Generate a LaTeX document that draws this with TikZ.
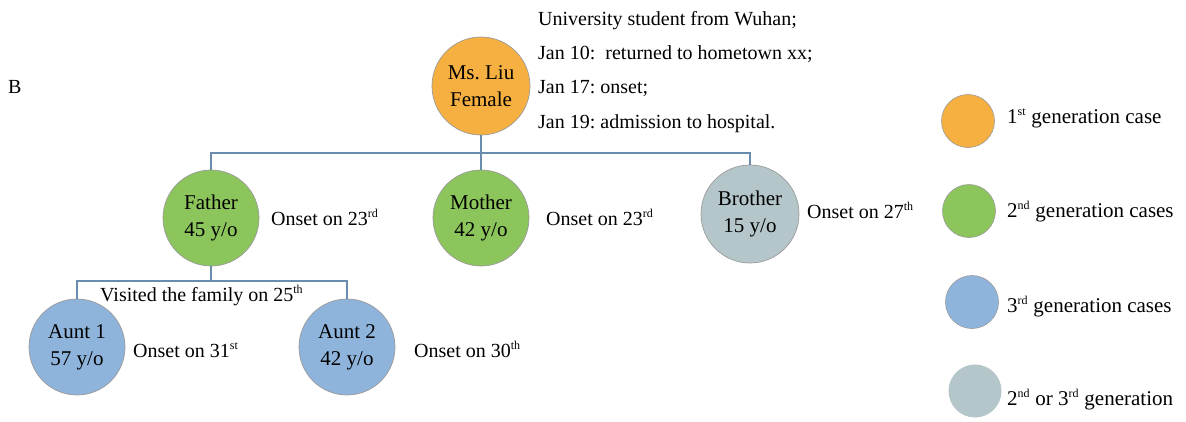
\documentclass[tikz,border=0pt]{standalone}
\usepackage{fontspec}
\setmainfont{Liberation Serif}
\usetikzlibrary{positioning}
\definecolor{gen1}{HTML}{F5B041}
\definecolor{gen2}{HTML}{8CC55C}
\definecolor{gen3}{HTML}{8FB4DC}
\definecolor{genx}{HTML}{B4C6C9}
\definecolor{rim}{HTML}{9A9A9A}
\definecolor{linkblue}{HTML}{6A8DAF}
\newcommand\ord[1]{\textsuperscript{\fontsize{12}{12}\selectfont #1}}
\frenchspacing

\begin{document}
\begin{tikzpicture}[x=1pt, y=-1pt,
        case/.style={circle, draw=rim, line width=0.7pt, minimum size=96pt, inner sep=0pt, align=center, font=\fontsize{21}{27}\selectfont},
        key/.style={circle, draw=rim, line width=0.6pt, minimum size=53pt, inner sep=0pt},
        note/.style={anchor=base west, inner sep=0pt, font=\fontsize{20}{23}\selectfont},
        keytext/.style={note, font=\fontsize{21}{23}\selectfont},
        link/.style={draw=linkblue, line width=1.5pt}]
        \useasboundingbox (0, 0) rectangle (1186, 421);
        \node[note] at (8, 93)(panel){B};

        \node[case, fill=gen1, minimum size=98pt] at (481, 86)(liu){Ms. Liu\\Female};
        \node[case, fill=gen2] at (211, 218)(father){Father\\45 y/o};
        \node[case, fill=gen2] at (481, 218)(mother){Mother\\42 y/o};
        \node[case, fill=genx, minimum size=98pt] at (750, 214)(brother){Brother\\15 y/o};
        \node[case, fill=gen3] at (77, 347)(aunt1){Aunt 1\\57 y/o};
        \node[case, fill=gen3] at (347, 347)(aunt2){Aunt 2\\42 y/o};

        \coordinate (bus1) at (0, 153);
        \coordinate (bus2) at (0, 281);
        \path[link]
            (liu.south) -- (liu.south |- bus1) -| (father.north)
            (liu.south |- bus1) -- (mother.north)
            (liu.south |- bus1) -| (brother.north)
            (father.south) -- (father.south |- bus2) -| (aunt1.north)
            (father.south |- bus2) -| (aunt2.north)
            ;

        \node[note] at (538, 25)(info1){University student from Wuhan;};
        \node[note] at (538, 59)(info2){Jan 10:\ \ returned to hometown xx;};
        \node[note] at (538, 93)(info3){Jan 17: onset;};
        \node[note] at (538, 128)(info4){Jan 19: admission to hospital.};

        \node[note] at (271, 225)(onsetf){Onset on 23\ord{rd}};
        \node[note] at (546, 225)(onsetm){Onset on 23\ord{rd}};
        \node[note] at (807, 218)(onsetb){Onset on 27\ord{th}};
        \node[note] at (133, 357)(onseta1){Onset on 31\ord{st}};
        \node[note] at (414, 357)(onseta2){Onset on 30\ord{th}};
        \node[note] at (100, 301)(visit){Visited the family on 25\ord{th}};

        \node[key, fill=gen1] at (968, 121)(key1){};
        \node[key, fill=gen2] at (969, 211)(key2){};
        \node[key, fill=gen3] at (972, 302)(key3){};
        \node[key, fill=genx, draw=none] at (975, 391)(key4){};
        \node[keytext] at (1007, 123)(txt1){1\ord{st} generation case};
        \node[keytext] at (1007, 217)(txt2){2\ord{nd} generation cases};
        \node[keytext] at (1007, 312)(txt3){3\ord{rd} generation cases};
        \node[keytext] at (1007, 405)(txt4){2\ord{nd} or 3\ord{rd} generation};
    \end{tikzpicture}
\end{document}
